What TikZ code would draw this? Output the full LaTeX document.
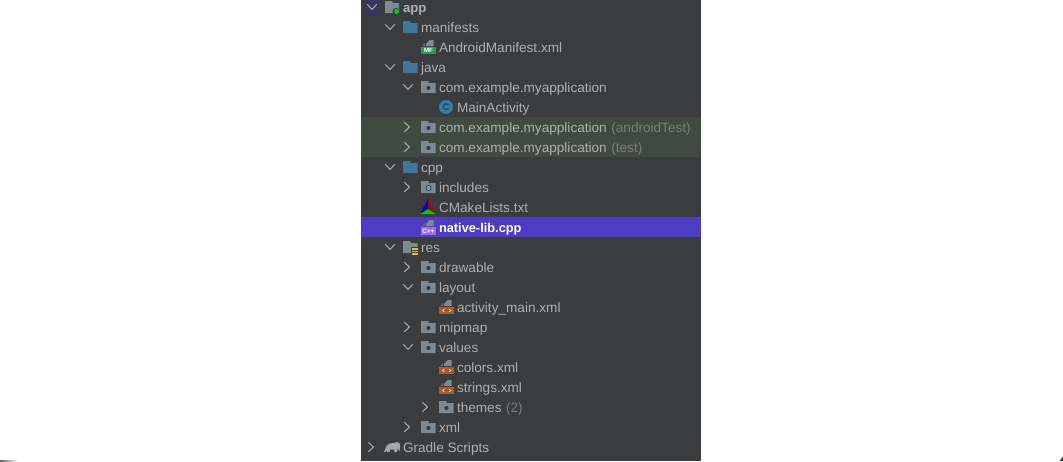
\documentclass[tikz,border=0pt]{standalone}
\usepackage{fontspec}
\setmainfont{Liberation Sans}
\definecolor{panel}{HTML}{3A3C3E}
\definecolor{greenrow}{HTML}{3F4A40}
\definecolor{selrow}{HTML}{4F3CC4}
\definecolor{txt}{HTML}{ADAFB0}
\definecolor{dimtxt}{HTML}{7A7D7F}
\definecolor{chev}{HTML}{A5A7A9}
\definecolor{folderblue}{HTML}{3F769B}
\definecolor{foldergray}{HTML}{7B8A95}
\definecolor{xmlorange}{HTML}{B5551F}
\definecolor{mfgreen}{HTML}{2F9A55}
\definecolor{cppviolet}{HTML}{9A6FE0}
\definecolor{classblue}{HTML}{2F7DA8}
\definecolor{elephant}{HTML}{A3A7AA}
\tikzset{
  x=0.75pt,y=-0.75pt,
  label/.style={anchor=base west,inner sep=0pt,outer sep=0pt,text=txt,font=\fontsize{10.2}{12}\selectfont},
  chevline/.style={draw=chev,line width=0.8pt,line cap=round,line join=round},
}
\newcommand{\chevD}[2]{\draw[chevline] (#1-4.5,#2-2.5) -- (#1,#2+2.5) -- (#1+4.5,#2-2.5);}
\newcommand{\chevR}[2]{\draw[chevline] (#1-2.5,#2-4.5) -- (#1+2.5,#2) -- (#1-2.5,#2+4.5);}
\newcommand{\fshape}[3]{\fill[#3] (#1,#2-6) -- (#1+7,#2-6) -- (#1+8,#2-4) -- (#1+14.5,#2-4) -- (#1+14.5,#2+6) -- (#1,#2+6) -- cycle;}
\newcommand{\pkg}[2]{\fshape{#1}{#2}{foldergray}\fill[panel] (#1+7.5,#2+1) circle (2.1);}
\newcommand{\page}[2]{\fill[foldergray] (#1+4,#2-1) -- (#1+4,#2-3) -- (#1+7.5,#2-7) -- (#1+11.5,#2-7) -- (#1+11.5,#2-1) -- cycle;
  \fill[foldergray!60!panel] (#1,#2-1) -- (#1+3,#2-4) -- (#1+3,#2-1) -- cycle;}
\newcommand{\xmlicon}[2]{\page{#1}{#2}\fill[xmlorange] (#1-1,#2) rectangle (#1+14,#2+7);
  \draw[white!85!xmlorange,line width=0.5pt] (#1+4.5,#2+2) -- (#1+2.5,#2+3.5) -- (#1+4.5,#2+5) (#1+9,#2+2) -- (#1+11,#2+3.5) -- (#1+9,#2+5);}
\begin{document}
\begin{tikzpicture}
\useasboundingbox (0,0) rectangle (1063,461);
\fill[white] (0,0) rectangle (1063,461);
\shade[left color=black!60,right color=white] (0,460.2) rectangle (18,461);
\fill[black!75] (1059.5,461) -- (1063,461) -- (1063,456.5) -- cycle;
\fill[panel] (361,0) rectangle (701,461);
\fill[greenrow] (361,117) rectangle (701,157);
\fill[selrow] (361,217) rectangle (701,237);
\fill[black!30!selrow!45!panel] (365,0) rectangle (379,16);
% chevrons
\chevD{372}{7}
\chevD{390}{27}\chevD{390}{67}\chevD{390}{167}\chevD{390}{247}
\chevD{408}{87}\chevD{408}{287}\chevD{408}{347}
\chevR{407}{127}\chevR{407}{147}\chevR{407}{187}\chevR{407}{267}\chevR{407}{327}\chevR{407}{427}
\chevR{425}{407}\chevR{371}{447}
% app module
\fill[foldergray] (385,1) -- (392,1) -- (393,3) -- (399,3) -- (399,13) -- (385,13) -- cycle;
\fill[panel] (396,11.5) circle (3.6);
\fill[green!75!black!90!cyan] (396.5,11.5) circle (2.6);
% blue folders
\fshape{403}{27}{folderblue}\fshape{403}{67}{folderblue}\fshape{403}{167}{folderblue}
% res folder
\fshape{403}{247}{foldergray}
\fill[panel] (411,247) rectangle (419,256);
\foreach \yy in {249,251.5,254} {\fill[yellow!70!orange!90!black] (412,\yy-0.6) rectangle (418,\yy+0.6);}
% packages
\pkg{421}{87}\pkg{421}{127}\pkg{421}{147}\pkg{421}{267}\pkg{421}{287}\pkg{421}{327}\pkg{421}{347}\pkg{421}{427}\pkg{439}{407}
% includes
\fshape{421}{187}{foldergray}\fill[panel] (428.5,188) circle (3);\fill[classblue!70!white] (428.5,188) circle (2.1);
% manifest
\page{422}{47}\fill[mfgreen] (421,47) rectangle (436,54);
\node[inner sep=0pt,text=white,font=\fontsize{4.6}{5}\bfseries\selectfont] (mf) at (428.5,50.6) {MF};
% class
\fill[classblue] (446,107) circle (7);
\node[inner sep=0pt,text=panel,font=\fontsize{7}{8}\bfseries\selectfont] (cls) at (446,107) {C};
% cmake
\fill[red!70!black!90!panel] (428,199) -- (435.5,213) -- (428,209) -- cycle;
\fill[blue!75!black] (428,199) -- (420.5,213) -- (428,209) -- cycle;
\fill[green!80!black] (420.5,214) -- (435.5,214) -- (428,209) -- cycle;
% cpp
\page{422}{227}\fill[cppviolet] (421,227) rectangle (436,234.5);
\node[inner sep=0pt,text=white,font=\fontsize{4.8}{5}\bfseries\selectfont] (cpp) at (428.5,230.8) {C++};
% xml
\xmlicon{440}{307}\xmlicon{440}{367}\xmlicon{440}{387}
% gradle elephant
\fill[elephant] (384,452) -- (386.5,446) .. controls (388,443.5) and (391,443) .. (394,443) .. controls (396,441.5) and (399,441.5) .. (400,444) .. controls (400.5,446) and (400,449) .. (399.5,451) -- (398.5,450) -- (398,447.5) -- (397,452) -- (394.5,452) -- (394,449.5) -- (390,449.5) -- (389.5,452) -- (387,452) -- (386.5,450) -- (385.5,452) -- cycle;
% labels
\node[label,font=\fontsize{9.9}{12}\bfseries\selectfont] (app) at (403,12.5) {app};
\node[label] (manifests) at (421,32) {manifests};
\node[label] (androidmanifest) at (439,52) {AndroidManifest.xml};
\node[label] (java) at (421,72) {java};
\node[label] (pkgmain) at (439,92) {com.example.myapplication};
\node[label] (mainactivity) at (457,112) {MainActivity};
\node[label] (pkgandroid) at (439,132) {com.example.myapplication\hspace{3.4pt}\textcolor{dimtxt}{(androidTest)}};
\node[label] (pkgtest) at (439,152) {com.example.myapplication\hspace{3.4pt}\textcolor{dimtxt}{(test)}};
\node[label] (cpplabel) at (421,172) {cpp};
\node[label] (includes) at (439,192) {includes};
\node[label] (cmakelists) at (439,212) {CMakeLists.txt};
\node[label,text=white,font=\fontsize{9.6}{12}\bfseries\selectfont] (nativelib) at (439,232) {native-lib.cpp};
\node[label] (res) at (421,252) {res};
\node[label] (drawable) at (439,272) {drawable};
\node[label] (layout) at (439,292) {layout};
\node[label] (activitymain) at (457,312) {activity\_main.xml};
\node[label] (mipmap) at (439,332) {mipmap};
\node[label] (values) at (439,352) {values};
\node[label] (colors) at (457,372) {colors.xml};
\node[label] (strings) at (457,392) {strings.xml};
\node[label] (themes) at (457,412) {themes\hspace{3.4pt}\textcolor{dimtxt}{(2)}};
\node[label] (xml) at (439,432) {xml};
\node[label] (gradle) at (403,452) {Gradle Scripts};
\end{tikzpicture}
\end{document}
